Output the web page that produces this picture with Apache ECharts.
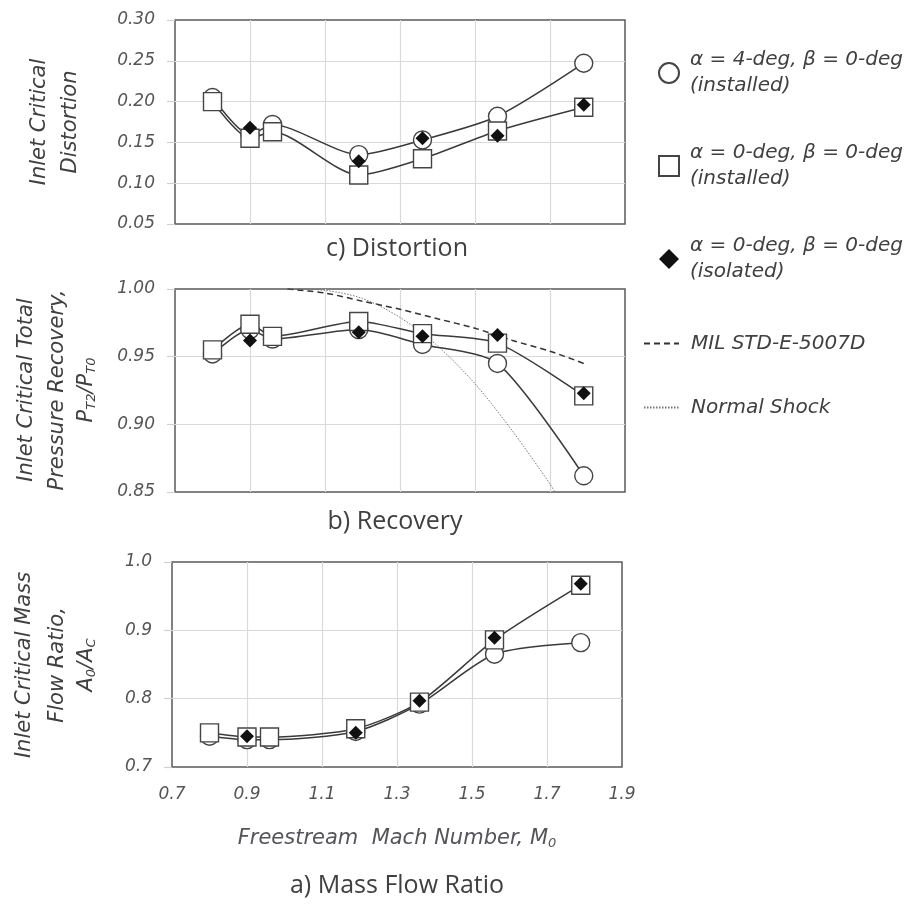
<!DOCTYPE html>
<html>
<head>
<meta charset="utf-8">
<script src="https://cdn.jsdelivr.net/npm/echarts@6/dist/echarts.min.js"></script>
<style>
  html, body { margin: 0; padding: 0; background: #ffffff; }
  #chart { width: 915px; height: 909px; }
</style>
</head>
<body>
<div id="chart"></div>
<script>
// Freestream Mach numbers of the test points
const machInstalled = [0.80, 0.90, 0.96, 1.19, 1.36, 1.56, 1.79];
const machIsolated = [0.90, 1.19, 1.36, 1.56, 1.79];

// c) Inlet critical distortion
const distortionA4 = [0.205, 0.159, 0.172, 0.135, 0.153, 0.182, 0.247];
const distortionA0 = [0.200, 0.155, 0.163, 0.110, 0.130, 0.164, 0.193];
const distortionIso = [0.168, 0.127, 0.155, 0.158, 0.196];

// b) Inlet critical total pressure recovery
const recoveryA4 = [0.952, 0.970, 0.963, 0.970, 0.959, 0.945, 0.862];
const recoveryA0 = [0.955, 0.974, 0.965, 0.976, 0.967, 0.960, 0.921];
const recoveryIso = [0.962, 0.968, 0.965, 0.966, 0.923];

// MIL STD-E-5007D recovery schedule and normal-shock recovery
const milMach = [1.00, 1.10, 1.20, 1.30, 1.40, 1.50, 1.60, 1.70, 1.79];
const milRecovery = [1.000, 0.997, 0.991, 0.985, 0.978, 0.971, 0.962, 0.954, 0.945];
const shockMach = [1.00, 1.10, 1.20, 1.30, 1.40, 1.50, 1.60, 1.70, 1.713];
const shockRecovery = [1.000, 0.999, 0.993, 0.979, 0.958, 0.930, 0.895, 0.856, 0.850];

// a) Inlet critical mass flow ratio
const massFlowA4 = [0.745, 0.740, 0.740, 0.752, 0.792, 0.865, 0.882];
const massFlowA0 = [0.750, 0.744, 0.744, 0.756, 0.795, 0.886, 0.966];
const massFlowIso = [0.745, 0.750, 0.797, 0.889, 0.968];

// Axis tick values
const machTicks = [0.7, 0.9, 1.1, 1.3, 1.5, 1.7, 1.9];
const distortionTicks = [0.05, 0.10, 0.15, 0.20, 0.25, 0.30];
const recoveryTicks = [0.85, 0.90, 0.95, 1.00];
const massFlowTicks = [0.7, 0.8, 0.9, 1.0];

const legendLabels = {
  a4: '\u03B1 = 4-deg, \u03B2 = 0-deg\n(installed)',
  a0: '\u03B1 = 0-deg, \u03B2 = 0-deg\n(installed)',
  iso: '\u03B1 = 0-deg, \u03B2 = 0-deg\n(isolated)',
  mil: 'MIL STD-E-5007D',
  shock: 'Normal Shock'
};

const pair = (xs, ys) => xs.map((x, i) => [x, ys[i]]);

const ITALIC = '"DejaVu Sans", sans-serif';
const TEXT = '#404040';
const TICK_TEXT = '#555555';
const GRID_LINE = '#d9d9d9';
const LINE = '#3a3a3a';
const SMOOTH = 0.25;

function xAxisFor(gridIndex, showLabels) {
  return {
    type: 'value',
    gridIndex: gridIndex,
    min: machTicks[0],
    max: machTicks[machTicks.length - 1],
    interval: machTicks[1] - machTicks[0],
    axisLine: { show: false },
    axisTick: { show: false },
    splitLine: { show: true, showMinLine: false, showMaxLine: false, lineStyle: { color: GRID_LINE, width: 1.2 } },
    axisLabel: {
      show: showLabels,
      margin: 19,
      fontFamily: ITALIC, fontStyle: 'italic', fontSize: 17, color: TICK_TEXT,
      formatter: v => v.toFixed(1)
    }
  };
}

function yAxisFor(gridIndex, ticks, digits) {
  return {
    type: 'value',
    gridIndex: gridIndex,
    min: ticks[0],
    max: ticks[ticks.length - 1],
    interval: +(ticks[1] - ticks[0]).toFixed(4),
    axisLine: { show: false },
    axisTick: { show: true, inside: false, length: 8, lineStyle: { color: '#d0d0d0', width: 1.2 } },
    splitLine: { show: true, showMinLine: false, showMaxLine: false, lineStyle: { color: GRID_LINE, width: 1.2 } },
    axisLabel: {
      margin: 20,
      fontFamily: ITALIC, fontStyle: 'italic', fontSize: 17, color: TICK_TEXT,
      formatter: v => v.toFixed(digits)
    }
  };
}

function panelSeries(gridIndex, a4, a0, iso) {
  const base = { xAxisIndex: gridIndex, yAxisIndex: gridIndex, silent: true, animation: false };
  return [
    Object.assign({}, base, {
      type: 'line', name: 'a4-curve', data: pair(machInstalled, a4), symbol: 'none',
      smooth: SMOOTH, lineStyle: { color: LINE, width: 1.5 }, z: 2
    }),
    Object.assign({}, base, {
      type: 'line', name: 'a0-curve', data: pair(machInstalled, a0), symbol: 'none',
      smooth: SMOOTH, lineStyle: { color: LINE, width: 1.5 }, z: 2
    }),
    Object.assign({}, base, {
      type: 'scatter', name: 'a4', data: pair(machInstalled, a4), symbol: 'circle', symbolSize: 18,
      itemStyle: { color: '#ffffff', borderColor: '#444444', borderWidth: 1.4, opacity: 1 }, z: 3
    }),
    Object.assign({}, base, {
      type: 'scatter', name: 'a0', data: pair(machInstalled, a0), symbol: 'rect', symbolSize: 18,
      itemStyle: { color: '#ffffff', borderColor: '#444444', borderWidth: 1.4, opacity: 1 }, z: 4
    }),
    Object.assign({}, base, {
      type: 'scatter', name: 'iso', data: pair(machIsolated, iso), symbol: 'diamond', symbolSize: 14,
      itemStyle: { color: '#111111', borderColor: '#111111', borderWidth: 0, opacity: 1 }, z: 5
    })
  ];
}

const series = []
  .concat(panelSeries(0, distortionA4, distortionA0, distortionIso))
  .concat(panelSeries(1, recoveryA4, recoveryA0, recoveryIso))
  .concat(panelSeries(2, massFlowA4, massFlowA0, massFlowIso))
  .concat([
    {
      type: 'line', name: 'mil', xAxisIndex: 1, yAxisIndex: 1, silent: true, animation: false,
      data: pair(milMach, milRecovery), symbol: 'none', smooth: 0.3,
      itemStyle: { color: '#333333' },
      lineStyle: { color: '#333333', width: 1.5, type: [6, 4] }, z: 1
    },
    {
      type: 'line', name: 'shock', xAxisIndex: 1, yAxisIndex: 1, silent: true, animation: false,
      data: pair(shockMach, shockRecovery), symbol: 'none', smooth: 0.3,
      itemStyle: { color: '#777777' },
      lineStyle: { color: '#777777', width: 1, type: [1.5, 1.5] }, z: 1
    }
  ]);

function rotatedLabel(x, y, text, rich) {
  const style = {
    text: text, x: 0, y: 0, align: 'center', verticalAlign: 'middle',
    fill: TEXT, fontFamily: ITALIC, fontStyle: 'italic', fontSize: 21
  };
  if (rich) style.rich = rich;
  return { type: 'text', x: x, y: y, rotation: Math.PI / 2, silent: true, style: style };
}

const subRich = {
  m: { fontFamily: ITALIC, fontStyle: 'italic', fontSize: 21, lineHeight: 26, fill: TEXT, verticalAlign: 'middle' },
  s: { fontFamily: ITALIC, fontStyle: 'italic', fontSize: 13, lineHeight: 26, fill: TEXT, verticalAlign: 'bottom', padding: [0, 0, 2, 0] }
};

function caption(x, y, text) {
  return {
    type: 'text', x: x, y: y, silent: true,
    style: { text: text, align: 'center', verticalAlign: 'middle', fill: TEXT,
             fontFamily: '"Open Sans", sans-serif', fontSize: 25 }
  };
}

const option = {
  backgroundColor: '#ffffff',
  animation: false,
  grid: [
    { left: 175, top: 20, width: 450, height: 204, show: true, borderColor: '#5a5a5a', borderWidth: 1.5, backgroundColor: 'transparent' },
    { left: 175, top: 289, width: 450, height: 203, show: true, borderColor: '#5a5a5a', borderWidth: 1.5, backgroundColor: 'transparent' },
    { left: 172, top: 562, width: 450, height: 205, show: true, borderColor: '#5a5a5a', borderWidth: 1.5, backgroundColor: 'transparent' }
  ],
  xAxis: [
    xAxisFor(0, false),
    xAxisFor(1, false),
    Object.assign(xAxisFor(2, true), {
      name: '{m|Freestream  Mach Number, M}{s|0}',
      nameLocation: 'middle',
      nameGap: 59,
      nameTextStyle: { rich: subRich }
    })
  ],
  yAxis: [
    yAxisFor(0, distortionTicks, 2),
    yAxisFor(1, recoveryTicks, 2),
    yAxisFor(2, massFlowTicks, 1)
  ],
  legend: [
    {
      orient: 'vertical', left: 658, top: 47, padding: 0,
      itemWidth: 20, itemHeight: 20, itemGap: 41, selectedMode: false,
      data: [{ name: 'a4', icon: 'circle' }, { name: 'a0', icon: 'rect' }, { name: 'iso', icon: 'diamond' }],
      formatter: name => legendLabels[name],
      textStyle: { fontFamily: ITALIC, fontStyle: 'italic', fontSize: 20, lineHeight: 26, color: TEXT, padding: [0, 0, 0, 6] }
    },
    {
      orient: 'vertical', left: 643, top: 330, padding: 0,
      itemWidth: 35, itemHeight: 14, itemGap: 37, selectedMode: false,
      data: [{ name: 'mil' }, { name: 'shock' }],
      itemStyle: { opacity: 0 },
      formatter: name => legendLabels[name],
      textStyle: { fontFamily: ITALIC, fontStyle: 'italic', fontSize: 20, lineHeight: 27, color: TEXT, padding: [0, 0, 0, 7] }
    }
  ],
  graphic: [
    rotatedLabel(40, 122, 'Inlet Critical'),
    rotatedLabel(71, 122, 'Distortion'),
    rotatedLabel(27, 390, 'Inlet Critical Total'),
    rotatedLabel(58, 390, 'Pressure Recovery,'),
    rotatedLabel(87, 390, '{m|P}{s|T2}{m|/P}{s|T0}', subRich),
    rotatedLabel(25, 665, 'Inlet Critical Mass'),
    rotatedLabel(58, 665, 'Flow Ratio,'),
    rotatedLabel(87, 665, '{m|A}{s|0}{m|/A}{s|C}', subRich),
    caption(397, 249, 'c) Distortion'),
    caption(395, 522, 'b) Recovery'),
    caption(397, 886, 'a) Mass Flow Ratio')
  ],
  series: series
};

const chart = echarts.init(document.getElementById('chart'), null, { renderer: 'canvas' });
chart.setOption(option);
</script>
</body>
</html>
